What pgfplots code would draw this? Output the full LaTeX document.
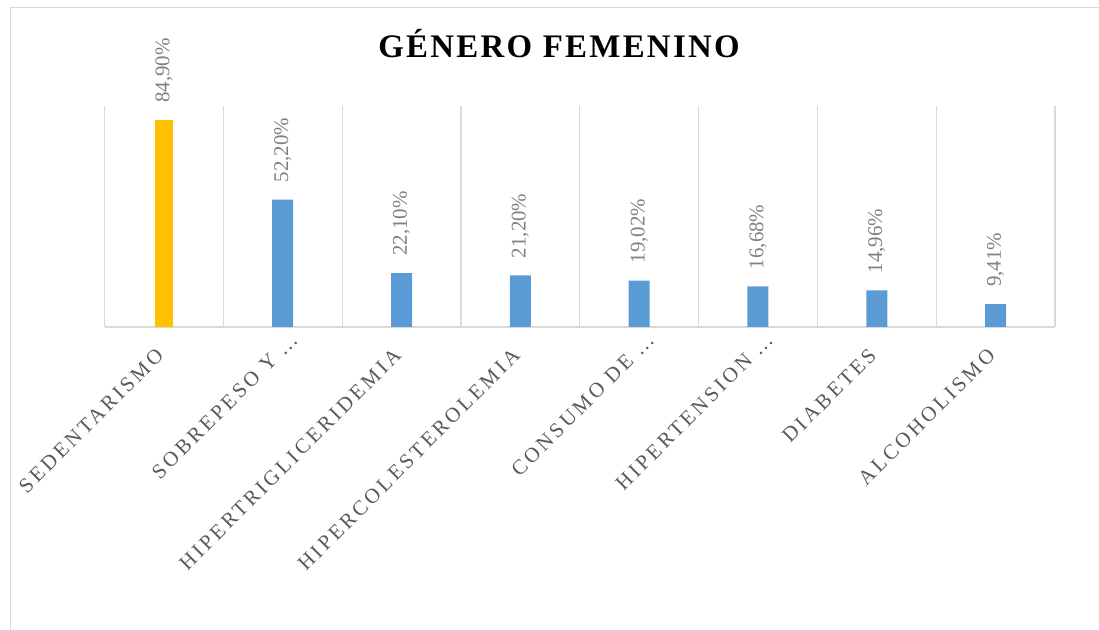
\documentclass[border=0pt]{standalone}
\usepackage{pgfplots}
\pgfplotsset{compat=1.18}
\usepackage{fontspec}
\setmainfont{Liberation Serif}
\newfontfamily\titlefont[LetterSpace=7]{Liberation Serif}
\newfontfamily\catfont[LetterSpace=15]{Liberation Serif}
\definecolor{barYellow}{HTML}{FFC000}
\definecolor{barBlue}{HTML}{5B9BD5}
\definecolor{gridGray}{HTML}{D9D9D9}
\definecolor{valGray}{HTML}{808080}
\definecolor{catGray}{HTML}{595959}
\newcommand{\ellab}[1]{#1\kern-22bp\relax}
\begin{document}
\begin{tikzpicture}[x=1bp,y=1bp]
\useasboundingbox (0,0) rectangle (1099,630);
\draw[gridGray, line width=1.5bp] (10.5,-5) -- (10.5,622.5) -- (1105,622.5);
\node[anchor=base, inner sep=0pt, font=\titlefont\bfseries\fontsize{33}{36}\selectfont] at (559,572.7) {GÉNERO FEMENINO};
\begin{axis}[
  at={(104.5bp,303bp)}, anchor=south west,
  scale only axis, width=950.5bp, height=221bp,
  xmin=-0.5, xmax=7.5, ymin=0, ymax=90.6,
  ybar, bar width=21bp, bar shift=0pt,
  axis y line=none,
  axis x line*=bottom,
  x axis line style={gridGray, line width=1.5bp, -},
  xtick={0,...,7},
  xticklabels={SEDENTARISMO, \ellab{SOBREPESO Y …}, HIPERTRIGLICERIDEMIA, HIPERCOLESTEROLEMIA, \ellab{CONSUMO DE …}, \ellab{HIPERTENSION …}, DIABETES, ALCOHOLISMO},
  minor xtick={-0.5,0.5,...,7.5},
  xminorgrids=true,
  minor grid style={gridGray, line width=1.2bp},
  major tick length=0pt, minor tick length=0pt,
  xticklabel style={xshift=-4bp, yshift=-25bp, rotate=45, anchor=east, inner sep=0pt, font=\catfont\fontsize{21}{24}\selectfont, text=catGray},
  nodes near coords={\pgfmathprintnumber[assume math mode=true,fixed,fixed zerofill,precision=2,use comma]{\pgfplotspointmeta}\%},
  every node near coord/.append style={rotate=90, anchor=west, inner xsep=17bp, inner ysep=0pt, font=\fontsize{21}{24}\selectfont, text=valGray},
  clip=false,
]
\addplot[fill=barYellow, draw=none, bar width=18bp] coordinates {(0,84.90)};
\addplot[fill=barBlue, draw=none] coordinates {(1,52.20) (2,22.10) (3,21.20) (4,19.02) (5,16.68) (6,14.96) (7,9.41)};
\end{axis}
\end{tikzpicture}
\end{document}
